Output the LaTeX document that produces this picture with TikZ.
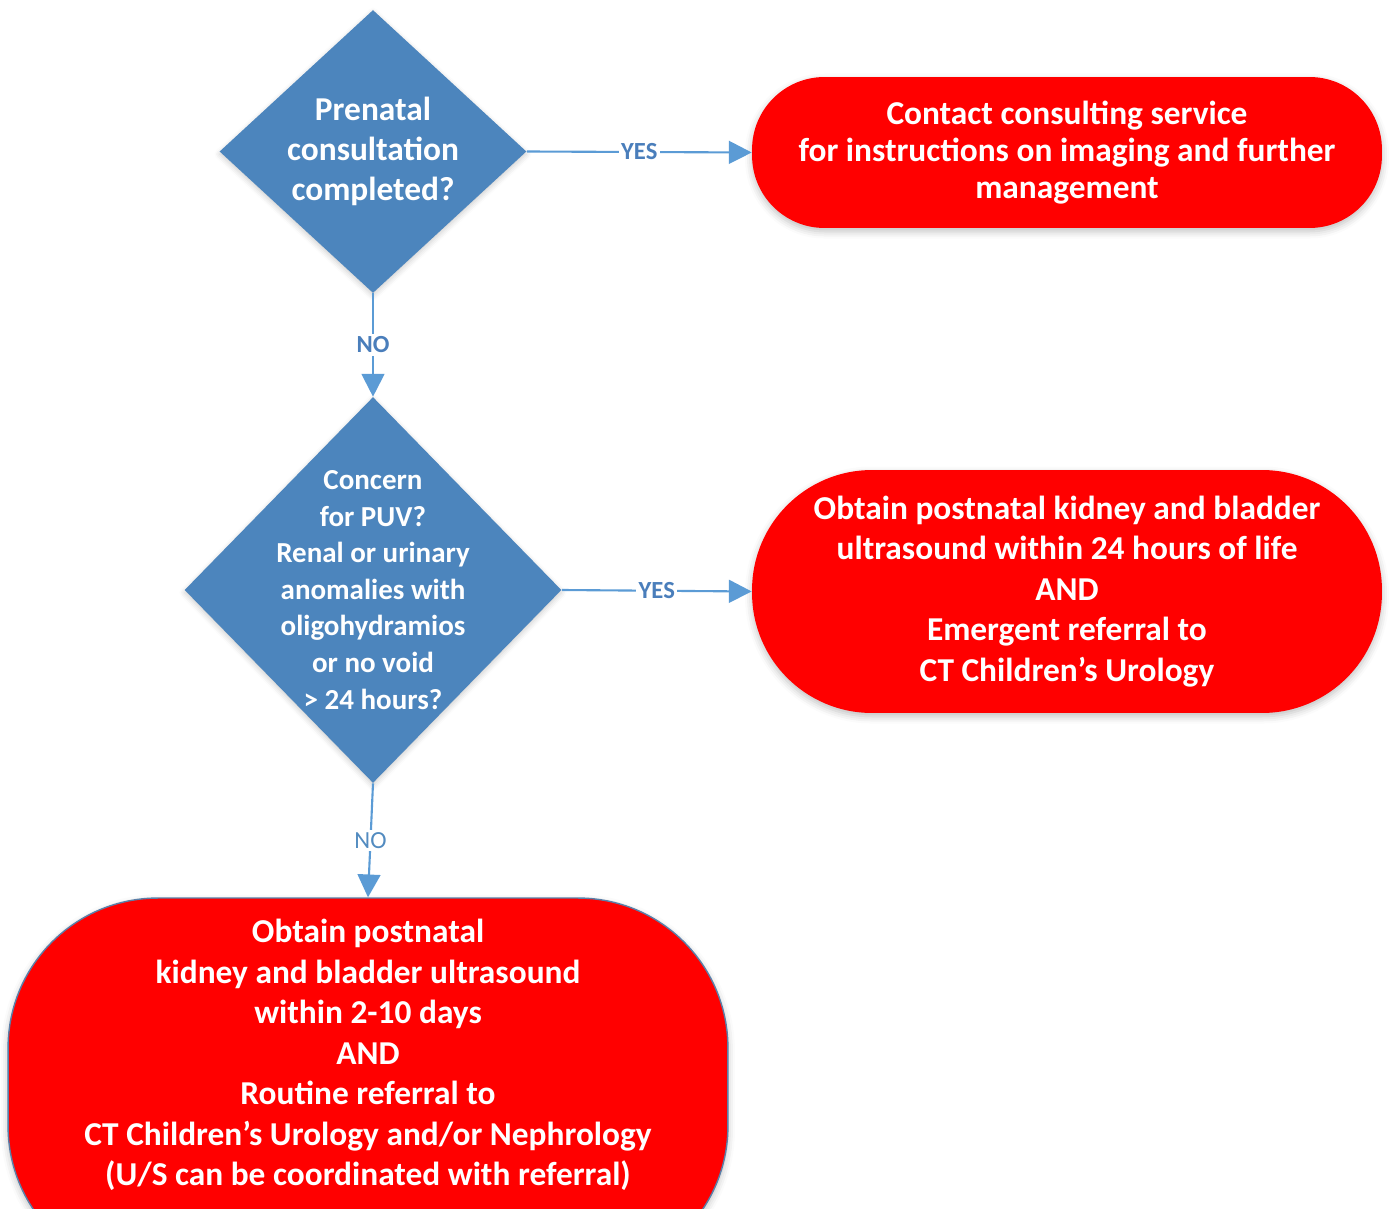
\documentclass[tikz,border=0pt]{standalone}
\usepackage{fontspec}
\setmainfont{Carlito}
\usepackage{tikz}
\usetikzlibrary{positioning, shapes.geometric, arrows.meta, shadows.blur}
\definecolor{qblue}{HTML}{4C85BD}
\definecolor{flowblue}{HTML}{5B9BD5}
\definecolor{tagblue}{HTML}{4A7EBB}
\definecolor{outred}{HTML}{FF0000}
\definecolor{rimblue}{HTML}{5A7FA8}
\newcommand\qfont{\fontsize{19}{23}\selectfont\bfseries}
\newcommand\smallqfont{\fontsize{16.5}{20.8}\selectfont\bfseries}
\newcommand\tagfont{\fontsize{14}{16}\selectfont}

\begin{document}
\begin{tikzpicture}[x=0.02cm, y=-0.02cm,
  decision/.style={diamond, fill=qblue, inner sep=0pt,
    blur shadow={shadow xshift=0pt, shadow yshift=-1.5pt, shadow blur radius=3pt, shadow opacity=20}},
  outcome/.style={rectangle, fill=outred, inner sep=0pt, align=center, text=white,
    blur shadow={shadow xshift=0pt, shadow yshift=-2pt, shadow blur radius=4pt, shadow opacity=25}},
  qtext/.style={align=center, text=white, inner sep=0pt},
  flow/.style={draw=flowblue, line width=1.2pt, -{Triangle[length=13pt, width=13pt]}},
  answer/.style={fill=white, inner sep=1.5pt, text=tagblue, font=\tagfont},
]
\useasboundingbox (0,0) rectangle (1390,1209);
\clip (0,0) rectangle (1390,1209);

% questions
\node[decision, minimum width=6.14cm, minimum height=5.66cm] (prenatal) at (373,151.5) {};
\node[qtext, font=\qfont] (prenataltext) at (prenatal) {Prenatal\\consultation\\completed?};

\node[decision, minimum width=7.54cm, minimum height=7.72cm] (puv) at (373,590) {};
\node[qtext, font=\smallqfont] (puvtext) at (puv)
  {Concern\\for PUV?\\Renal or urinary\\anomalies with\\oligohydramios\\or no void\\> 24 hours?};

% outcomes
\node[outcome, minimum width=12.6cm, minimum height=3.02cm, rounded corners=1.45cm,
  font=\fontsize{19}{21}\selectfont\bfseries] (consult) at (1067,152.5)
  {Contact consulting service\\for instructions on imaging and further\\management};

\node[outcome, minimum width=12.6cm, minimum height=4.86cm, rounded corners=2.4cm, font=\qfont]
  (urgent) at (1067,591.5)
  {Obtain postnatal kidney and bladder\\ultrasound within 24 hours of life\\AND\\Emergent referral to\\CT Children’s Urology};

\node[outcome, draw=rimblue, line width=0.8pt, minimum width=14.4cm, minimum height=7.56cm,
  rounded corners=3cm] (routine) at (368,1087) {};
\node[qtext, font=\qfont] (routinetext) at (368,1055)
  {Obtain postnatal\\kidney and bladder ultrasound\\within 2-10 days\\AND\\Routine referral to\\CT Children’s Urology and/or Nephrology\\(U/S can be coordinated with referral)};

% connectors
\draw[flow] (prenatal.east) -- node[answer, font=\tagfont\bfseries] {YES} (consult.west);
\draw[flow] (prenatal.south) -- node[answer, font=\tagfont\bfseries] {NO} (puv.north);
\draw[flow] (puv.east) -- node[answer, font=\tagfont\bfseries] {YES} (urgent.west);
\draw[flow] (puv.south) -- node[answer, text=flowblue!90!black] {NO} (routine.north);

\end{tikzpicture}
\end{document}
